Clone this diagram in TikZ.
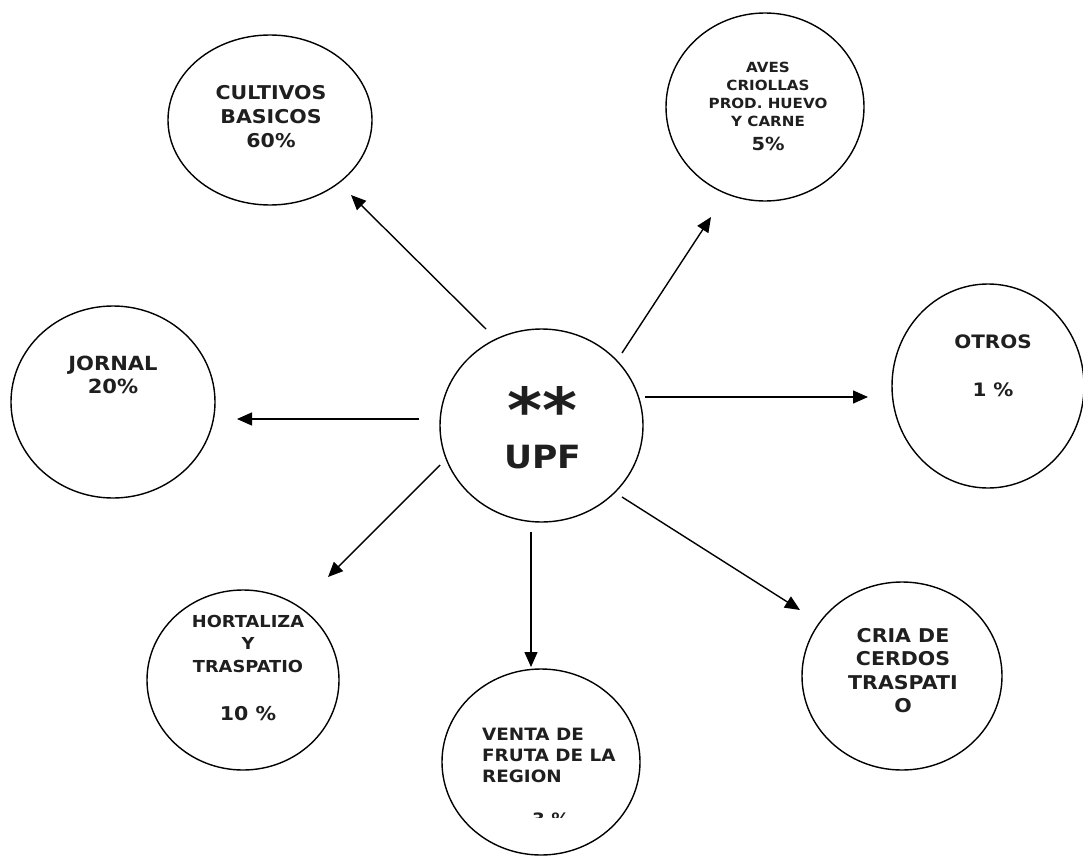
\documentclass[tikz,border=0pt]{standalone}
\usepackage{fontspec}
\setmainfont{DejaVu Sans}[FakeStretch=1.08]
\usetikzlibrary{arrows.meta, calc, shapes.geometric}

\begin{document}
\begin{tikzpicture}[x=1pt, y=-1pt,
	rama/.style={draw, ellipse, line width=1.4pt, inner sep=0pt},
	etiq/.style={align=center, inner sep=0pt, anchor=north, text=black!88},
	flecha/.style={-{Triangle[length=15pt, width=13pt]}, line width=1.4pt}]
	\useasboundingbox (0,0) rectangle (1083,856);
	
	% circulos
	\node[rama, minimum width=203pt, minimum height=193pt] (upf) at (541.5,425.5) {};
	\node[rama, minimum width=204pt, minimum height=170pt] (cult) at (270,120) {};
	\node[rama, minimum width=198pt, minimum height=188pt] (aves) at (765,107) {};
	\node[rama, minimum width=204pt, minimum height=192pt] (jorn) at (113,402) {};
	\node[rama, minimum width=192pt, minimum height=204pt] (otros) at (988,386) {};
	\node[rama, minimum width=192pt, minimum height=180pt] (hort) at (243,680) {};
	\node[rama, minimum width=198pt, minimum height=186pt] (vent) at (541,762) {};
	\node[rama, minimum width=200pt, minimum height=188pt] (cria) at (902,676) {};
	
	% textos
	\node[etiq, anchor=base, font=\bfseries\fontsize{62}{62}\selectfont] (upf-ast) at (542.5,432) {**};
	\node[etiq, anchor=base, font=\bfseries\fontsize{32}{32}\selectfont] (upf-txt) at (542.5,468) {UPF};
	\node[etiq, font=\bfseries\fontsize{19}{24}\selectfont] (cult-txt) at (271,85)
		{CULTIVOS\\BASICOS\\60\%};
	\node[etiq, font=\bfseries\fontsize{14}{18}\selectfont] (aves-txt) at (768,62)
		{AVES\\CRIOLLAS\\PROD. HUEVO\\Y CARNE\\[6pt]{\fontsize{18}{18}\selectfont 5\%}};
	\node[etiq, font=\bfseries\fontsize{19.5}{23}\selectfont] (jorn-txt) at (113,356)
		{JORNAL\\20\%};
	\node[etiq, font=\bfseries\fontsize{18.5}{24}\selectfont] (otros-txt) at (993,335)
		{OTROS\\[24pt]1 \%};
	\node[etiq, font=\bfseries\fontsize{16.5}{22.5}\selectfont] (hort-txt) at (248,615)
		{HORTALIZA\\Y\\TRASPATIO\\[26pt]{\fontsize{19}{19}\selectfont 10 \%}};
	\node[etiq, font=\bfseries\fontsize{19}{23.5}\selectfont] (cria-txt) at (903,628)
		{CRIA DE\\CERDOS\\TRASPATI\\O};
	\node[etiq, align=left, anchor=north west, font=\bfseries\fontsize{17}{21}\selectfont] (vent-txt) at (482,728)
		{VENTA DE\\FRUTA DE LA\\REGION};
	\begin{scope}
		\clip (440,700) rectangle (650,817);
		\node[etiq, anchor=base, font=\bfseries\fontsize{17}{21}\selectfont] (vent-pct) at (551,825) {3 \%};
	\end{scope}
	
	% flechas
	\draw[flecha] ($(upf)+(-55.5,-96.5)$) -- ($(cult)+(81,75)$);
	\draw[flecha] ($(upf)+(80.5,-72.5)$) -- ($(aves)+(-54,110)$);
	\draw[flecha] ($(upf)+(-122.5,-6.5)$) -- ($(jorn)+(124,17)$);
	\draw[flecha] ($(upf)+(103.5,-28.5)$) -- ($(otros)+(-120,11)$);
	\draw[flecha] ($(upf)+(-101.5,39.5)$) -- ($(hort)+(85,-103)$);
	\draw[flecha] ($(upf)+(-10.5,106.5)$) -- ($(vent)+(-10,-95)$);
	\draw[flecha] ($(upf)+(80.5,71.5)$) -- ($(cria)+(-102,-66)$);
	
\end{tikzpicture}
\end{document}
